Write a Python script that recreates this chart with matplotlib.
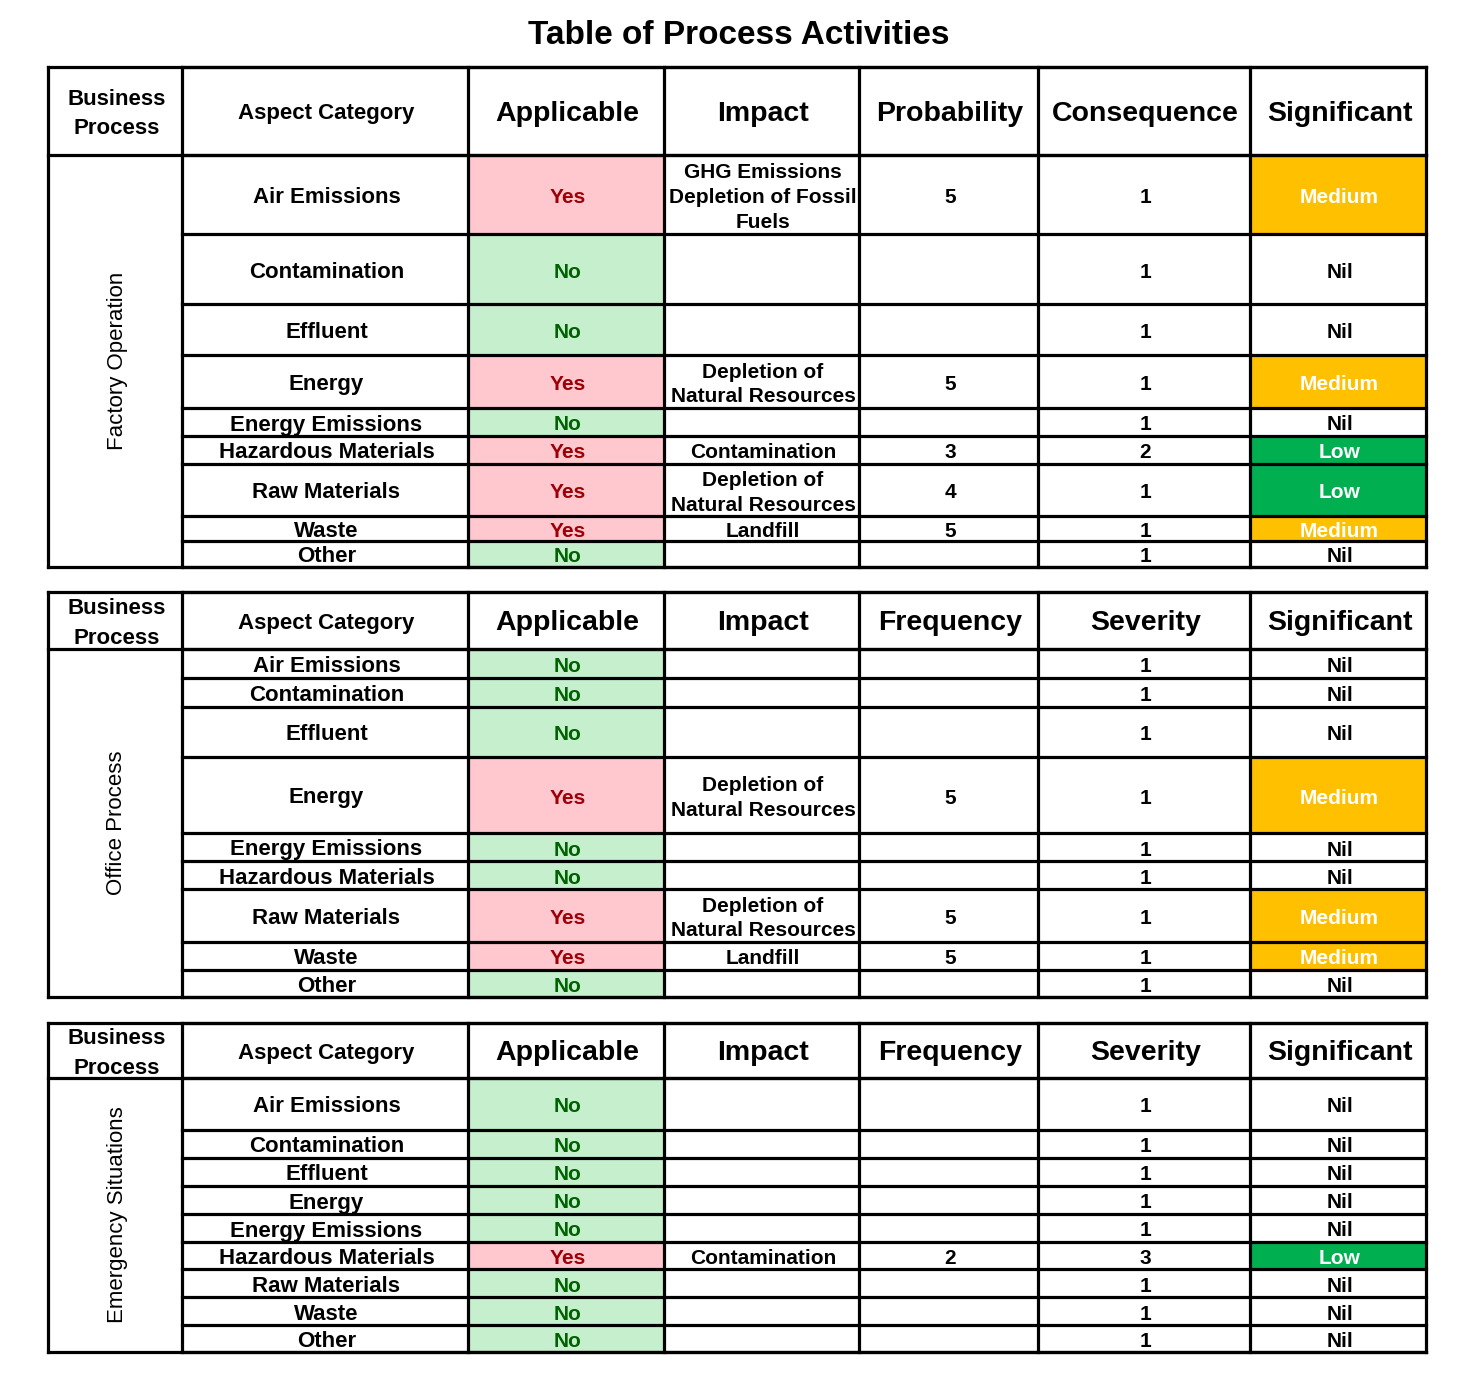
import matplotlib.pyplot as plt
from matplotlib.patches import Rectangle

plt.rcParams['font.family'] = ['Liberation Sans', 'DejaVu Sans']

#%% DATA

title = 'Table of Process Activities'

categories = ['Air Emissions', 'Contamination', 'Effluent', 'Energy', 'Energy Emissions',
              'Hazardous Materials', 'Raw Materials', 'Waste', 'Other']

DNR = 'Depletion of\nNatural Resources'

# table 1 - factory operation
factory_app = ['Yes', 'No', 'No', 'Yes', 'No', 'Yes', 'Yes', 'Yes', 'No']
factory_impact = ['GHG Emissions\nDepletion of Fossil\nFuels', '', '', DNR, '', 'Contamination', DNR, 'Landfill', '']
factory_prob = ['5', '', '', '5', '', '3', '4', '5', '']
factory_cons = ['1', '1', '1', '1', '1', '2', '1', '1', '1']
factory_sig = ['Medium', 'Nil', 'Nil', 'Medium', 'Nil', 'Low', 'Low', 'Medium', 'Nil']

# table 2 - office process
office_app = ['No', 'No', 'No', 'Yes', 'No', 'No', 'Yes', 'Yes', 'No']
office_impact = ['', '', '', DNR, '', '', DNR, 'Landfill', '']
office_freq = ['', '', '', '5', '', '', '5', '5', '']
office_sev = ['1', '1', '1', '1', '1', '1', '1', '1', '1']
office_sig = ['Nil', 'Nil', 'Nil', 'Medium', 'Nil', 'Nil', 'Medium', 'Medium', 'Nil']

# table 3 - emergency situations
emerg_app = ['No', 'No', 'No', 'No', 'No', 'Yes', 'No', 'No', 'No']
emerg_impact = ['', '', '', '', '', 'Contamination', '', '', '']
emerg_freq = ['', '', '', '', '', '2', '', '', '']
emerg_sev = ['1', '1', '1', '1', '1', '3', '1', '1', '1']
emerg_sig = ['Nil', 'Nil', 'Nil', 'Nil', 'Nil', 'Low', 'Nil', 'Nil', 'Nil']

headers1 = ['Business\nProcess', 'Aspect Category', 'Applicable', 'Impact', 'Probability', 'Consequence', 'Significant']
headers2 = ['Business\nProcess', 'Aspect Category', 'Applicable', 'Impact', 'Frequency', 'Severity', 'Significant']

#%% LAYOUT (pixels)

cols = [48, 182, 468, 664, 859, 1038, 1250, 1426]
rows1 = [67, 155, 234, 304, 355, 408, 436, 464, 516, 541, 567]
rows2 = [592, 649, 678, 707, 757, 833, 861, 889, 942, 970, 997]
rows3 = [1023, 1078, 1130, 1158, 1186, 1214, 1242, 1269, 1297, 1325, 1352]

app_style = {'Yes': ('#FFC7CE', '#9C0006'), 'No': ('#C6EFCE', '#006100')}
sig_style = {'Medium': ('#FFC000', 'white'), 'Low': ('#00B050', 'white'), 'Nil': ('white', 'black')}

fig = plt.figure(figsize=(14.64, 13.76), dpi=100)
ax = fig.add_axes([0, 0, 1, 1])
ax.set_xlim(0, 1464)
ax.set_ylim(1376, 0)
ax.axis('off')

ax.text(739, 36, title, ha='center', va='center', fontsize=24, fontweight='bold')


def cell_text(x0, x1, y0, y1, s, size=15, color='black', **kw):
    ax.text((x0 + x1) / 2 + 1.5, (y0 + y1) / 2 + 3, s, ha='center', va='center',
            fontsize=size, fontweight='bold', color=color, linespacing=1.4, **kw)


def draw_table(rows, headers, process, app, impact, col5, col6, sig):
    # cell fills
    for i in range(len(categories)):
        y0, y1 = rows[i + 1], rows[i + 2]
        fc, tc = app_style[app[i]]
        ax.add_patch(Rectangle((cols[2], y0), cols[3] - cols[2], y1 - y0, fc=fc, lw=0))
        fc2, tc2 = sig_style[sig[i]]
        ax.add_patch(Rectangle((cols[6], y0), cols[7] - cols[6], y1 - y0, fc=fc2, lw=0))
        cell_text(cols[1], cols[2], y0, y1, categories[i], size=16)
        cell_text(cols[2], cols[3], y0, y1, app[i], color=tc)
        cell_text(cols[3], cols[4], y0, y1, impact[i])
        cell_text(cols[4], cols[5], y0, y1, col5[i])
        cell_text(cols[5], cols[6], y0, y1, col6[i])
        cell_text(cols[6], cols[7], y0, y1, sig[i], color=tc2)

    # header
    for j, h in enumerate(headers):
        size = 16 if j < 2 else 20.5
        ax.text((cols[j] + cols[j + 1]) / 2 + 1.5, (rows[0] + rows[1]) / 2 + 3, h, ha='center', va='center',
                fontsize=size, fontweight='bold', linespacing=1.5)

    # process label
    ax.text((cols[0] + cols[1]) / 2 + 2, (rows[1] + rows[-1]) / 2, process, ha='center', va='center',
            rotation=90, fontsize=16)

    # grid lines
    lw = 2.3
    for y in rows:
        ax.plot([cols[1], cols[-1]], [y, y], color='black', lw=lw, solid_capstyle='projecting')
    for y in (rows[0], rows[1], rows[-1]):
        ax.plot([cols[0], cols[-1]], [y, y], color='black', lw=lw, solid_capstyle='projecting')
    for x in cols:
        ax.plot([x, x], [rows[0], rows[-1]], color='black', lw=lw, solid_capstyle='projecting')


draw_table(rows1, headers1, 'Factory Operation', factory_app, factory_impact, factory_prob, factory_cons, factory_sig)
draw_table(rows2, headers2, 'Office Process', office_app, office_impact, office_freq, office_sev, office_sig)
draw_table(rows3, headers2, 'Emergency Situations', emerg_app, emerg_impact, emerg_freq, emerg_sev, emerg_sig)

fig.savefig('out.png', dpi=100)
